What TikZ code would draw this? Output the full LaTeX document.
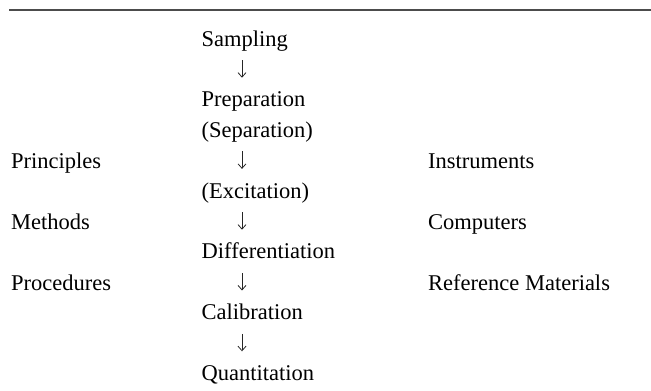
\documentclass[tikz,border=0pt]{standalone}
\usepackage{fontspec}
\setmainfont{Liberation Serif}
\usetikzlibrary{arrows.meta}
\begin{document}
\begin{tikzpicture}[x=1pt,y=-1pt,
  lbl/.style={anchor=base west,inner sep=0pt,text height=16pt,text depth=5pt,
    font=\fontsize{22.5}{27}\selectfont},
  flow/.style={draw=black!85,line width=0.8pt,shorten <=9pt,shorten >=12.9pt,
    -{Straight Barb[length=4.5pt,width=8pt,line width=0.8pt]}},
  rule/.style={draw=black!70,line width=1.3pt}]
\useasboundingbox (0,0) rectangle (651,391);
\coordinate (rl) at (9,10);
\coordinate (rr) at (651,10);
\draw[rule] (rl) -- (rr);
% middle column (row r baseline = 46 + 30.4 r)
\node[lbl] (samp) at (201.5,46) {Sampling};
\node[lbl] (prep) at (201.5,106.8) {Preparation};
\node[lbl] (sep)  at (201.5,137.2) {(Separation)};
\node[lbl] (exc)  at (201.5,198) {(Excitation)};
\node[lbl] (diff) at (201.5,258.8) {Differentiation};
\node[lbl] (cal)  at (201.5,319.6) {Calibration};
\node[lbl] (quan) at (201.5,380.4) {Quantitation};
% left column
\node[lbl] (princ) at (11,168.6) {Principles};
\node[lbl] (meth)  at (11,229.4) {Methods};
\node[lbl] (proc)  at (11,290.2) {Procedures};
% right column
\node[lbl] (instr) at (428,168.6) {Instruments};
\node[lbl] (comp)  at (428,229.4) {Computers};
\node[lbl] (refm)  at (428,290.2) {Reference Materials};
% arrows
\draw[flow] (samp.south west) ++(40.5,0) coordinate (a1) -- (a1 |- prep.north);
\draw[flow] (sep.south west) ++(40.5,0) coordinate (a2) -- (a2 |- exc.north);
\draw[flow] (exc.south west) ++(40.5,0) coordinate (a3) -- (a3 |- diff.north);
\draw[flow] (diff.south west) ++(40.5,0) coordinate (a4) -- (a4 |- cal.north);
\draw[flow] (cal.south west) ++(40.5,0) coordinate (a5) -- (a5 |- quan.north);
\end{tikzpicture}
\end{document}
